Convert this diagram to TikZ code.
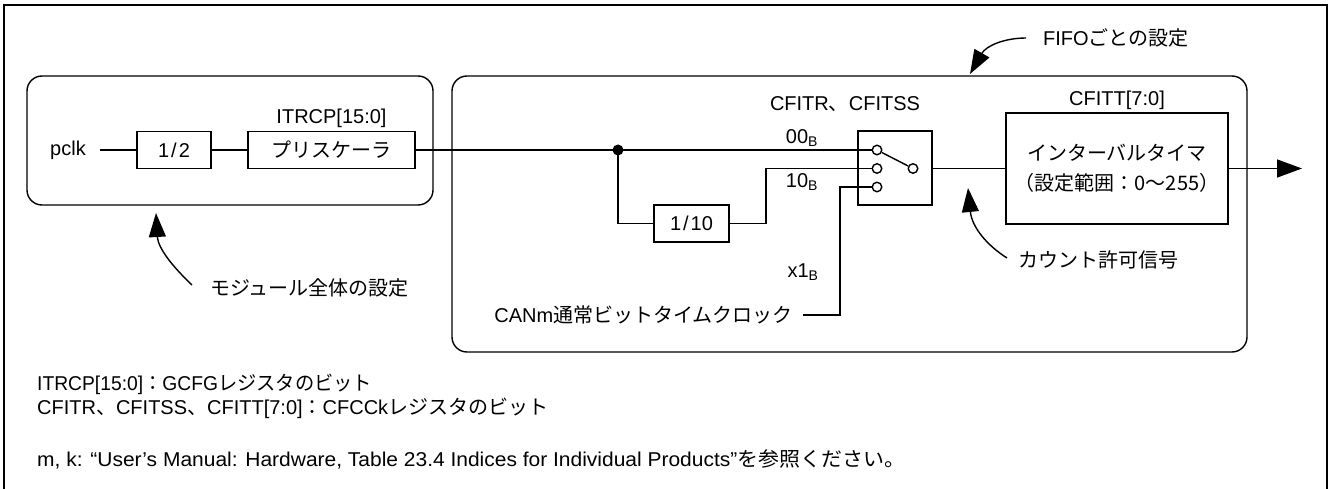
\documentclass[tikz,border=0pt]{standalone}
\usepackage{fontspec}
\usepackage{graphicx}
\setmainfont{Liberation Sans}
\newfontfamily\jpfont{Noto Sans CJK JP}
\newcommand{\jp}[1]{{\jpfont #1}}
\usetikzlibrary{arrows.meta}
\begin{document}
\begin{tikzpicture}[x=1pt,y=-1pt,
  every node/.style={font=\fontsize{20}{24}\selectfont, inner sep=0pt},
  wire/.style={line width=1.4pt},
  blk/.style={draw, line width=1.4pt, inner sep=0pt},
  grp/.style={draw, line width=1.4pt, rounded corners=15pt, inner sep=0pt},
  port/.style={draw, circle, line width=1.4pt, minimum size=9.5pt, inner sep=0pt, fill=white},
  bigarrow/.style={line width=1.4pt, -{Triangle[length=24pt,width=17pt]}},
  note/.style={anchor=west, font=\fontsize{20}{24}\selectfont}
]
\useasboundingbox (0,0) rectangle (1329,489);
% outer frame (bottom edge lies outside the picture)
\draw[line width=2.6pt] (4,492) -- (4,5) -- (1327,5) -- (1327,492);

% group boxes
\node[grp, minimum width=406pt, minimum height=129pt] (modbox) at (230,140.5) {};
\node[grp, minimum width=795pt, minimum height=276pt] (fifobox) at (849.5,214) {};

% blocks
\node[anchor=east, inner xsep=14pt] (pclk) at (100,150) {pclk};
\node[blk, minimum width=74pt, minimum height=37pt] (half) at (174,150) {1\kern2pt/\kern2pt2};
\node[blk, minimum width=167pt, minimum height=37pt] (pre) at (331.5,150) {\jp{プリスケーラ}};
\node[anchor=south, inner ysep=3pt] (itrcp) at (pre.north) {ITRCP[15:0]};
\node[blk, minimum width=75pt, minimum height=37pt] (ten) at (691.5,223.5) {1\kern2pt/\kern2pt10};
\node[blk, minimum width=74pt, minimum height=74pt] (sw) at (895,168) {};
\node[blk, minimum width=222pt, minimum height=111pt, align=center,
      font=\fontsize{20}{30}\selectfont] (itv) at (1117,168.5)
      {\jp{インターバルタイマ}\\\jp{（設定範囲：0〜255）}};
\node[anchor=south, inner ysep=2pt] (cfitt) at (itv.north) {CFITT[7:0]};
\node (cfitr) at (845,104) {CFITR\jp{、}CFITSS};

% switch ports
\node[port] (c1) at (877,150) {};
\node[port] (c2) at (877,168.5) {};
\node[port] (c3) at (877,187) {};
\node[port] (co) at (913,168.5) {};

% selector labels
\node (l00) at (802,138) {00\textsubscript{B}};
\node (l10) at (802,182) {10\textsubscript{B}};
\node (lx1) at (803,272) {x1\textsubscript{B}};

\node[anchor=east, inner xsep=10pt] (can) at (803,315) {CANm\jp{通常ビットタイムクロック}};

% coordinates
\coordinate (junc) at (618,150);
\coordinate (tenin) at (618,223.5);
\coordinate (tenup) at (766,223.5);
\coordinate (tenrt) at (766,168.5);
\coordinate (canc) at (840,315);
\coordinate (canup) at (840,187);
\coordinate (outend) at (1302,168.5);

% wires
\draw[wire] (pclk.east) -- (half.west);
\draw[wire] (half.east) -- (pre.west);
\draw[wire] (pre.east) -- (junc) -- (c1.west);
\draw[wire] (junc) -- (tenin) -- (ten.west);
\draw[wire] (ten.east) -- (tenup) -- (tenrt) -- (c2.west);
\draw[wire] (can.east) -- (canc) -- (canup) -- (c3.west);
\draw[wire] (c1) -- (co);
\draw[wire] (sw.east |- co) -- (itv.west);
\draw[wire, -{Triangle[length=25pt,width=18pt]}] (itv.east) -- (outend);
\fill (junc) circle (5.5pt);

% annotations
\node[anchor=west] (modlbl) at (210,288) {\jp{モジュール全体の設定}};
\node[anchor=west] (fifolbl) at (1043,38) {FIFO\jp{ごとの設定}};
\node[anchor=west] (cntlbl) at (1018,260) {\jp{カウント許可信号}};
\coordinate (modA) at (192,285);
\coordinate (modT) at (156,213);
\coordinate (fifoA) at (1026,38);
\coordinate (fifoT) at (970,74);
\coordinate (cntA) at (1007,258);
\coordinate (cntT) at (968,188);
\draw[bigarrow] (modA) .. controls (172,266) and (158,248) .. (modT);
\draw[bigarrow] (fifoA) .. controls (1004,38) and (986,46) .. (fifoT);
\draw[bigarrow] (cntA) .. controls (988,246) and (972,228) .. (cntT);

% notes
\node[note] (n1) at (37,384) {\resizebox{335pt}{\height}{ITRCP[15:0]\jp{：}GCFG\jp{レジスタのビット}}};
\node[note] (n2) at (37,408) {\resizebox{511pt}{\height}{CFITR\jp{、}CFITSS\jp{、}CFITT[7:0]\jp{：}CFCCk\jp{レジスタのビット}}};
\node[note] (n3) at (37,459) {\resizebox{868pt}{\height}{m, k: “User’s Manual: Hardware, Table 23.4 Indices for Individual Products”\jp{を参照ください。}}};
\end{tikzpicture}
\end{document}
